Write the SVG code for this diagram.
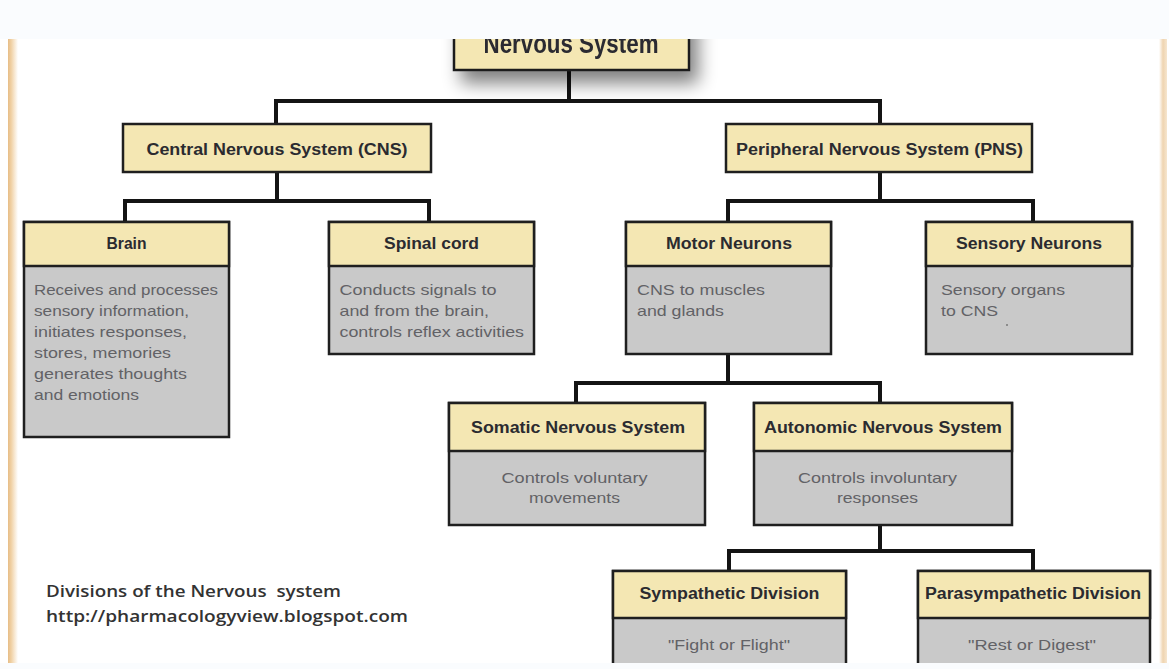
<svg xmlns="http://www.w3.org/2000/svg" width="1169" height="669" viewBox="0 0 1169 669">
<defs>
<style>
.hdr{fill:#f4e7b3;stroke:#1f1f1f;stroke-width:2.5}
.bdy{fill:#c9c9c9;stroke:#1f1f1f;stroke-width:2.5}
.ht{font-family:"Liberation Sans",Arial,sans-serif;font-weight:bold;font-size:16px;fill:#2b2b30;text-anchor:middle}
.rt{font-size:27px}
.bt{font-family:"Liberation Sans",Arial,sans-serif;font-size:15px;fill:#626266}
.bc{text-anchor:middle}
.conn{fill:none;stroke:#141414;stroke-width:4;stroke-linecap:square;stroke-linejoin:miter}
.ft{font-family:"Open Sans","Liberation Sans",sans-serif;font-size:16px;font-weight:600;fill:#333333;white-space:pre}
</style>
<filter id="shadow" x="-30%" y="-60%" width="160%" height="260%">
<feGaussianBlur in="SourceAlpha" stdDeviation="9"/>
<feOffset dx="8" dy="12" result="b"/>
<feComponentTransfer><feFuncA type="linear" slope="0.5"/></feComponentTransfer>
<feMerge><feMergeNode/><feMergeNode in="SourceGraphic"/></feMerge>
</filter>
<linearGradient id="lb" x1="0" x2="1" y1="0" y2="0">
<stop offset="0" stop-color="#e7bd86"/>
<stop offset="0.35" stop-color="#f1d3a8"/>
<stop offset="1" stop-color="#ffffff"/>
</linearGradient>
<linearGradient id="rb" x1="1" x2="0" y1="0" y2="0">
<stop offset="0" stop-color="#f6e6cf"/>
<stop offset="0.5" stop-color="#efd4b0"/>
<stop offset="1" stop-color="#ffffff"/>
</linearGradient>
<clipPath id="area"><rect x="0" y="39" width="1169" height="624"/></clipPath>
</defs>
<rect x="0" y="0" width="1169" height="669" fill="#fafcfe"/>
<rect x="0" y="39" width="1169" height="624" fill="#ffffff"/>
<rect x="8" y="39" width="10" height="624" fill="url(#lb)"/>
<rect x="1159" y="39" width="8" height="624" fill="url(#rb)"/>
<g clip-path="url(#area)">
<g id="connectors">
<path class="conn" d="M569 70 V101"/>
<path class="conn" d="M276 124 V101 H880 V124"/>
<path class="conn" d="M277 172 V201"/>
<path class="conn" d="M125 222 V201 H429 V222"/>
<path class="conn" d="M880 172 V201"/>
<path class="conn" d="M728 222 V201 H1033 V222"/>
<path class="conn" d="M728 354 V383"/>
<path class="conn" d="M576 403 V383 H880 V403"/>
<path class="conn" d="M880 525 V551"/>
<path class="conn" d="M729 571 V551 H1033 V571"/>
</g>
<g id="root" filter="url(#shadow)">
<rect class="hdr" x="454" y="10" width="235" height="60"/>
<text class="ht rt" x="571" y="53" textLength="175" lengthAdjust="spacingAndGlyphs">Nervous System</text>
</g>
<g id="cns">
<rect class="hdr" x="123" y="124" width="308" height="48"/>
<text class="ht" x="277" y="155" textLength="261" lengthAdjust="spacingAndGlyphs">Central Nervous System (CNS)</text>
</g>
<g id="pns">
<rect class="hdr" x="726" y="124" width="306" height="48"/>
<text class="ht" x="879.5" y="155" textLength="287" lengthAdjust="spacingAndGlyphs">Peripheral Nervous System (PNS)</text>
</g>
<g id="brain">
<rect class="bdy" x="24" y="222" width="205" height="215"/>
<rect class="hdr" x="24" y="222" width="205" height="44"/>
<text class="ht" x="126.5" y="249" textLength="40" lengthAdjust="spacingAndGlyphs">Brain</text>
<text class="bt" x="34" y="295" textLength="184" lengthAdjust="spacingAndGlyphs">Receives and processes</text>
<text class="bt" x="34" y="316" textLength="155" lengthAdjust="spacingAndGlyphs">sensory information,</text>
<text class="bt" x="34" y="337" textLength="153" lengthAdjust="spacingAndGlyphs">initiates responses,</text>
<text class="bt" x="34" y="358" textLength="137" lengthAdjust="spacingAndGlyphs">stores, memories</text>
<text class="bt" x="34" y="379" textLength="153" lengthAdjust="spacingAndGlyphs">generates thoughts</text>
<text class="bt" x="34" y="400" textLength="105" lengthAdjust="spacingAndGlyphs">and emotions</text>
</g>
<g id="spinal">
<rect class="bdy" x="329" y="222" width="205" height="132"/>
<rect class="hdr" x="329" y="222" width="205" height="44"/>
<text class="ht" x="431.5" y="249" textLength="95" lengthAdjust="spacingAndGlyphs">Spinal cord</text>
<text class="bt" x="339.5" y="295" textLength="157" lengthAdjust="spacingAndGlyphs">Conducts signals to</text>
<text class="bt" x="339.5" y="316" textLength="149.5" lengthAdjust="spacingAndGlyphs">and from the brain,</text>
<text class="bt" x="339.5" y="337" textLength="184.5" lengthAdjust="spacingAndGlyphs">controls reflex activities</text>
</g>
<g id="motor">
<rect class="bdy" x="626" y="222" width="205" height="132"/>
<rect class="hdr" x="626" y="222" width="205" height="44"/>
<text class="ht" x="729" y="249" textLength="126" lengthAdjust="spacingAndGlyphs">Motor Neurons</text>
<text class="bt" x="637" y="295" textLength="128" lengthAdjust="spacingAndGlyphs">CNS to muscles</text>
<text class="bt" x="637" y="316" textLength="87" lengthAdjust="spacingAndGlyphs">and glands</text>
</g>
<g id="sensory">
<rect class="bdy" x="926" y="222" width="206" height="132"/>
<rect class="hdr" x="926" y="222" width="206" height="44"/>
<text class="ht" x="1029" y="249" textLength="146" lengthAdjust="spacingAndGlyphs">Sensory Neurons</text>
<text class="bt" x="941" y="295" textLength="124" lengthAdjust="spacingAndGlyphs">Sensory organs</text>
<text class="bt" x="941" y="316" textLength="57" lengthAdjust="spacingAndGlyphs">to CNS</text>
<circle cx="1007" cy="325" r="1" fill="#777"/>
</g>
<g id="somatic">
<rect class="bdy" x="449" y="403" width="256" height="122"/>
<rect class="hdr" x="449" y="403" width="256" height="48"/>
<text class="ht" x="578" y="433" textLength="214" lengthAdjust="spacingAndGlyphs">Somatic Nervous System</text>
<text class="bt bc" x="574.5" y="483" textLength="146" lengthAdjust="spacingAndGlyphs">Controls voluntary</text>
<text class="bt bc" x="574.5" y="503" textLength="91" lengthAdjust="spacingAndGlyphs">movements</text>
</g>
<g id="autonomic">
<rect class="bdy" x="754" y="403" width="258" height="122"/>
<rect class="hdr" x="754" y="403" width="258" height="48"/>
<text class="ht" x="883" y="433" textLength="238" lengthAdjust="spacingAndGlyphs">Autonomic Nervous System</text>
<text class="bt bc" x="877.5" y="483" textLength="159" lengthAdjust="spacingAndGlyphs">Controls involuntary</text>
<text class="bt bc" x="877.5" y="503" textLength="81" lengthAdjust="spacingAndGlyphs">responses</text>
</g>
<g id="sympathetic">
<rect class="bdy" x="613" y="571" width="233" height="120"/>
<rect class="hdr" x="613" y="571" width="233" height="47"/>
<text class="ht" x="729.5" y="599" textLength="180" lengthAdjust="spacingAndGlyphs">Sympathetic Division</text>
<text class="bt bc" x="729" y="650" textLength="122" lengthAdjust="spacingAndGlyphs">"Fight or Flight"</text>
</g>
<g id="parasympathetic">
<rect class="bdy" x="918" y="571" width="232" height="120"/>
<rect class="hdr" x="918" y="571" width="232" height="47"/>
<text class="ht" x="1033" y="599" textLength="216" lengthAdjust="spacingAndGlyphs">Parasympathetic Division</text>
<text class="bt bc" x="1032" y="650" textLength="128" lengthAdjust="spacingAndGlyphs">"Rest or Digest"</text>
</g>
<g id="caption">
<text class="ft" x="46" y="597" textLength="295" lengthAdjust="spacingAndGlyphs">Divisions of the Nervous  system</text>
<text class="ft" x="46" y="622" textLength="362" lengthAdjust="spacingAndGlyphs">http://pharmacologyview.blogspot.com</text>
</g>
</g>
</svg>
